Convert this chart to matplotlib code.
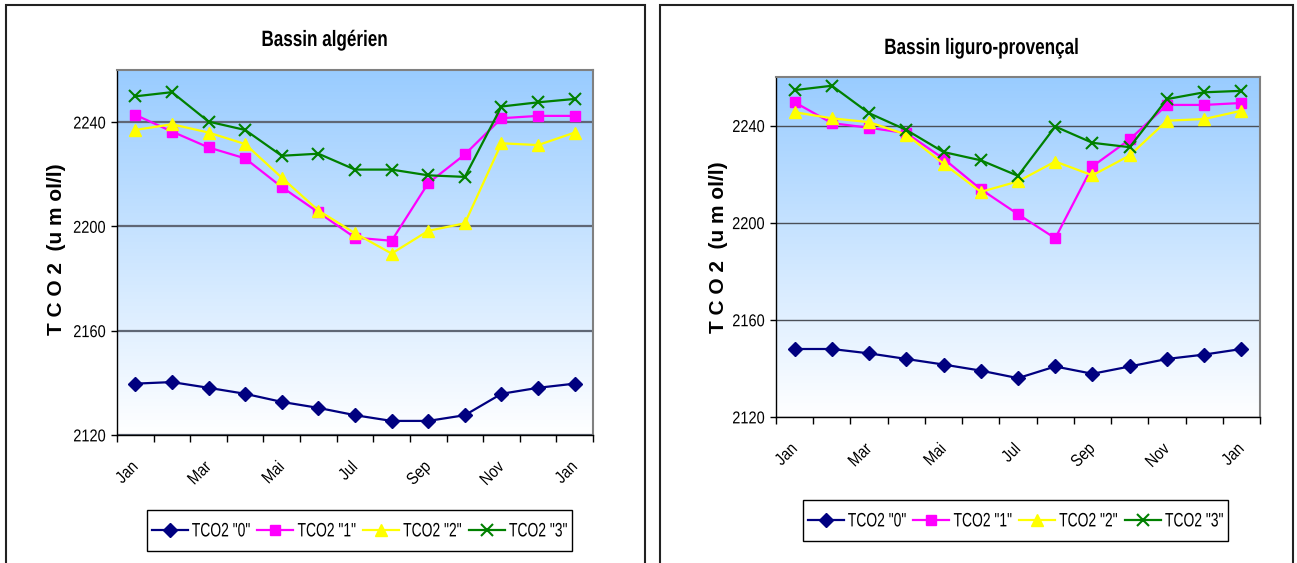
import numpy as np
import matplotlib
matplotlib.use("Agg")
import matplotlib.pyplot as plt
from matplotlib.colors import LinearSegmentedColormap
from matplotlib.patches import Rectangle
from matplotlib.patheffects import AbstractPathEffect
from matplotlib.transforms import Affine2D

# ---- data -------------------------------------------------------------
months = ["Jan", "Feb", "Mar", "Avr", "Mai", "Jun", "Jul", "Aou",
          "Sep", "Oct", "Nov", "Dec", "Jan"]
shown_labels = ["Jan", "Mar", "Mai", "Jul", "Sep", "Nov", "Jan"]
series_names = ['TCO2 "0"', 'TCO2 "1"', 'TCO2 "2"', 'TCO2 "3"']

alg_0 = [2139.7, 2140.3, 2138.1, 2135.8, 2132.7, 2130.4, 2127.6, 2125.4,
         2125.4, 2127.6, 2135.8, 2138.1, 2139.7]
alg_1 = [2242.8, 2236.4, 2230.3, 2226.1, 2215.1, 2205.4, 2195.7, 2194.5,
         2216.6, 2227.6, 2241.5, 2242.4, 2242.4]
alg_2 = [2237.0, 2239.2, 2236.0, 2231.6, 2218.7, 2206.1, 2197.4, 2189.6,
         2198.3, 2201.2, 2231.9, 2231.2, 2236.0]
alg_3 = [2249.9, 2251.5, 2240.2, 2237.0, 2227.1, 2227.9, 2221.8, 2221.8,
         2219.6, 2219.0, 2246.0, 2247.6, 2248.9]

lig_0 = [2148.0, 2148.0, 2146.2, 2143.9, 2141.6, 2139.1, 2136.0, 2140.8,
         2137.8, 2140.8, 2143.9, 2145.7, 2148.0]
lig_1 = [2249.6, 2241.0, 2239.1, 2236.9, 2226.4, 2213.8, 2203.5, 2193.6,
         2223.2, 2234.3, 2248.5, 2248.5, 2249.3]
lig_2 = [2245.5, 2243.0, 2241.4, 2236.3, 2224.3, 2212.7, 2217.0, 2225.2,
         2219.5, 2227.7, 2242.0, 2242.7, 2246.1]
lig_3 = [2254.6, 2256.4, 2245.1, 2238.2, 2229.1, 2225.7, 2219.3, 2239.6,
         2232.9, 2231.1, 2250.9, 2253.7, 2254.3]

y_ticks = [2120, 2160, 2200, 2240]


# ---- text helper: tall, narrow-looking glyphs -------------------------
class VStretch(AbstractPathEffect):
    """Stretch glyphs vertically (in the text's own frame)."""

    def __init__(self, sy, about="center"):
        super().__init__()
        self.sy = sy
        self.about = about

    def draw_path(self, renderer, gc, tpath, affine, rgbFace=None):
        if self.about == "center":
            ext = tpath.get_extents()
            cy = 0.5 * (ext.y0 + ext.y1)
        else:
            cy = 0.0
        t = Affine2D().translate(0, -cy).scale(1, self.sy).translate(0, cy)
        renderer.draw_path(gc, tpath, t + affine, rgbFace)


plt.rcParams["font.family"] = ["Liberation Sans", "DejaVu Sans"]

styles = [
    dict(color="#000080", marker="D", ms=7.5, lw=1.6),
    dict(color="#FF00FF", marker="s", ms=6.5, lw=1.6),
    dict(color="#FFFF00", marker="^", ms=8.5, lw=1.6),
    dict(color="#008000", marker="x", ms=8, lw=1.6, mew=1.5),
]

bg_cmap = LinearSegmentedColormap.from_list("bg", ["#FFFFFF", "#99CCFF"])

W, H = 1297, 563
fig = plt.figure(figsize=(W / 100, H / 100), dpi=100)
fig.patch.set_facecolor("white")


def px_rect(x0, y0, x1, y1):
    return [x0 / W, 1 - y1 / H, (x1 - x0) / W, (y1 - y0) / H]


def draw_panel(rect, data, title, title_xy, ylabel_xy, legend_box, grid_lw,
               grid_color):
    ax = fig.add_axes(rect)
    grad = np.linspace(0, 1, 256).reshape(-1, 1)
    ax.imshow(grad, cmap=bg_cmap, origin="lower", aspect="auto",
              extent=[0, 1, 0, 1], transform=ax.transAxes, zorder=0)
    x = np.arange(len(months))
    for vals, name, st in zip(data, series_names, styles):
        ax.plot(x, vals, label=name, zorder=3, clip_on=False, **st)
    ax.set_xlim(-0.5, len(months) - 0.5)
    ax.set_ylim(2120, 2260)
    ax.set_yticks(y_ticks)
    ax.tick_params(axis="y", length=4, width=1, pad=4, labelsize=10.5)
    ax.yaxis.grid(True, color=grid_color, lw=grid_lw, zorder=1)
    ax.set_axisbelow(True)
    ax.set_xticks(x[::2])
    ax.set_xticklabels(shown_labels, rotation=45, ha="right", va="center",
                       rotation_mode="anchor", fontsize=10.5)
    ax.tick_params(axis="x", which="major", length=0, pad=21)
    ax.set_xticks(np.arange(-0.5, len(months)), minor=True)
    ax.tick_params(axis="x", which="minor", length=5, width=1)
    for lbl in ax.get_xticklabels() + ax.get_yticklabels():
        lbl.set_path_effects([VStretch(1.18)])
    for s in ("left", "bottom"):
        ax.spines[s].set_color("black")
        ax.spines[s].set_linewidth(1.0)
    for s in ("top", "right"):
        ax.spines[s].set_color("#808080")
        ax.spines[s].set_linewidth(1.5)

    fig.text(title_xy[0] / W, 1 - title_xy[1] / H, title, ha="center",
             va="baseline", fontsize=12.3, fontweight="bold",
             path_effects=[VStretch(1.3, about="baseline")])
    fig.text(ylabel_xy[0] / W, 1 - ylabel_xy[1] / H, "T C O 2  (u m ol/l)",
             ha="center", va="center", rotation=90, fontsize=15,
             fontweight="bold")

    # legend: frame drawn as its own box, entries centred inside it
    bx0, by0, bx1, by1 = legend_box
    fig.add_artist(Rectangle((bx0 / W, 1 - by1 / H), (bx1 - bx0) / W,
                             (by1 - by0) / H, transform=fig.transFigure,
                             fill=False, edgecolor="black", lw=1.0))
    leg = fig.legend(*ax.get_legend_handles_labels(), loc="center",
                     bbox_to_anchor=((bx0 + bx1) / 2 / W,
                                     1 - (by0 + by1) / 2 / H),
                     ncol=4, frameon=False, fontsize=10, handlelength=2.6,
                     handletextpad=0.3, columnspacing=0.5, borderpad=0.2)
    for t in leg.get_texts():
        t.set_path_effects([VStretch(1.4)])
    return ax


# chart frames
for x0, x1 in ((6, 645), (660, 1293)):
    fig.add_artist(Rectangle((x0 / W, -0.05), (x1 - x0) / W, 1.05 - 5 / H,
                             transform=fig.transFigure, fill=False,
                             edgecolor="#222222", lw=1.5, clip_on=False))

draw_panel(px_rect(117, 70, 593, 435), [alg_0, alg_1, alg_2, alg_3],
           "Bassin algérien", (325, 46), (57, 249), (147, 510, 572, 551),
           1.6, "#5f6775")
draw_panel(px_rect(776, 77, 1260, 417), [lig_0, lig_1, lig_2, lig_3],
           "Bassin liguro-provençal", (982, 54), (718, 247),
           (803, 500, 1228, 541), 1.0, "#4a4f58")

fig.savefig("out.png", dpi=100, facecolor="white")
